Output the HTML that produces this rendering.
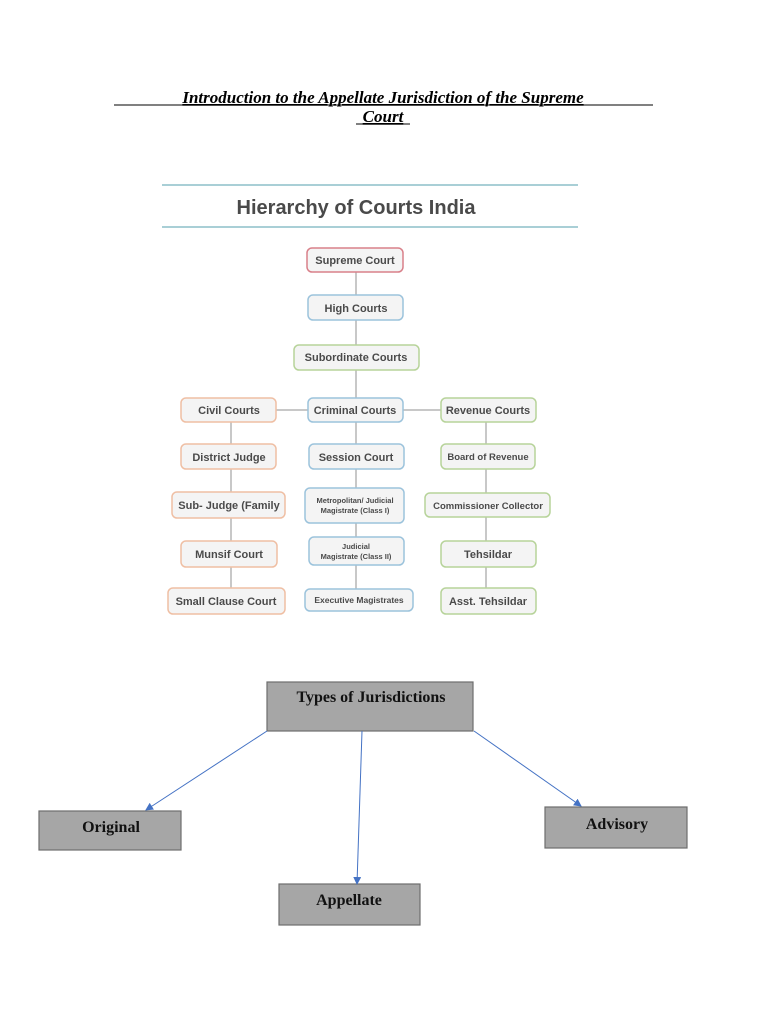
<!DOCTYPE html>
<html><head><meta charset="utf-8"><style>
html,body{margin:0;padding:0;background:#fff;}
svg{display:block;}
.t{font-family:"Liberation Sans",sans-serif;font-weight:bold;fill:#4a4a4a;text-anchor:middle;}
.s{font-family:"Liberation Serif",serif;font-weight:bold;fill:#111;text-anchor:middle;font-size:16px;}
</style></head><body>
<svg width="768" height="1024" viewBox="0 0 768 1024" xmlns="http://www.w3.org/2000/svg">
<defs>
<marker id="a" markerWidth="8" markerHeight="8" refX="7" refY="4" orient="auto" markerUnits="userSpaceOnUse"><path d="M0,0 L8,4 L0,8 z" fill="#4472c4"/></marker>
</defs>
<text x="383" y="103" style="font-family:'Liberation Serif',serif;font-style:italic;font-weight:bold;font-size:17px;text-anchor:middle;text-decoration:underline" fill="#000">Introduction to the Appellate Jurisdiction of the Supreme</text>
<text x="383" y="122" style="font-family:'Liberation Serif',serif;font-style:italic;font-weight:bold;font-size:17px;text-anchor:middle;text-decoration:underline" fill="#000">Court</text>
<line x1="114" y1="105" x2="653" y2="105" stroke="#000" stroke-width="1"/>
<line x1="356" y1="124" x2="410" y2="124" stroke="#000" stroke-width="1"/>

<line x1="162" y1="185" x2="578" y2="185" stroke="#a9cfd6" stroke-width="2"/>
<line x1="162" y1="227" x2="578" y2="227" stroke="#a9cfd6" stroke-width="2"/>
<text class="t" x="356" y="214" font-size="20" fill="#444">Hierarchy of Courts India</text>

<g stroke="#c8c8c8" stroke-width="2">
<line x1="356" y1="272" x2="356" y2="600"/>
<line x1="276" y1="410" x2="441" y2="410"/>
<line x1="231" y1="422" x2="231" y2="600"/>
<line x1="486" y1="422" x2="486" y2="600"/>
</g>

<g stroke-width="1.5" fill="#f4f4f4">
<rect x="307" y="248" width="96" height="24" rx="5" stroke="#d9808a"/>
<rect x="308" y="295" width="95" height="25" rx="5" stroke="#9cc3dc"/>
<rect x="294" y="345" width="125" height="25" rx="5" stroke="#b7d39a"/>
<rect x="181" y="398" width="95" height="24" rx="5" stroke="#efbfa4"/>
<rect x="308" y="398" width="95" height="24" rx="5" stroke="#9cc3dc"/>
<rect x="441" y="398" width="95" height="24" rx="5" stroke="#b7d39a"/>
<rect x="181" y="444" width="95" height="25" rx="5" stroke="#efbfa4"/>
<rect x="309" y="444" width="95" height="25" rx="5" stroke="#9cc3dc"/>
<rect x="441" y="444" width="94" height="25" rx="5" stroke="#b7d39a"/>
<rect x="172" y="492" width="113" height="26" rx="5" stroke="#efbfa4"/>
<rect x="305" y="488" width="99" height="35" rx="5" stroke="#9cc3dc"/>
<rect x="425" y="493" width="125" height="24" rx="5" stroke="#b7d39a"/>
<rect x="181" y="541" width="96" height="26" rx="5" stroke="#efbfa4"/>
<rect x="309" y="537" width="95" height="28" rx="5" stroke="#9cc3dc"/>
<rect x="441" y="541" width="95" height="26" rx="5" stroke="#b7d39a"/>
<rect x="168" y="588" width="117" height="26" rx="5" stroke="#efbfa4"/>
<rect x="305" y="589" width="108" height="22" rx="5" stroke="#9cc3dc"/>
<rect x="441" y="588" width="95" height="26" rx="5" stroke="#b7d39a"/>
</g>
<g class="t">
<text class="t" x="355" y="264" font-size="11">Supreme Court</text>
<text class="t" x="356" y="312" font-size="11">High Courts</text>
<text class="t" x="356" y="361" font-size="11">Subordinate Courts</text>
<text class="t" x="229" y="414" font-size="11">Civil Courts</text>
<text class="t" x="355" y="414" font-size="11">Criminal Courts</text>
<text class="t" x="488" y="414" font-size="11">Revenue Courts</text>
<text class="t" x="229" y="461" font-size="11">District Judge</text>
<text class="t" x="356" y="461" font-size="11">Session Court</text>
<text class="t" x="488" y="460" font-size="9.5">Board of Revenue</text>
<text class="t" x="229" y="509" font-size="11">Sub- Judge (Family</text>
<text class="t" x="355" y="503" font-size="7.5">Metropolitan/ Judicial</text>
<text class="t" x="355" y="513" font-size="7.5">Magistrate (Class I)</text>
<text class="t" x="488" y="509" font-size="9.5">Commissioner Collector</text>
<text class="t" x="229" y="558" font-size="11">Munsif Court</text>
<text class="t" x="356" y="549" font-size="7.5">Judicial</text>
<text class="t" x="356" y="559" font-size="7.5">Magistrate (Class II)</text>
<text class="t" x="488" y="558" font-size="11">Tehsildar</text>
<text class="t" x="226" y="605" font-size="11">Small Clause Court</text>
<text class="t" x="359" y="603" font-size="8.5">Executive Magistrates</text>
<text class="t" x="488" y="605" font-size="11">Asst. Tehsildar</text>
</g>

<g fill="#a6a6a6" stroke="#6d6d6d" stroke-width="1.2">
<rect x="267" y="682" width="206" height="49"/>
<rect x="39" y="811" width="142" height="39"/>
<rect x="545" y="807" width="142" height="41"/>
<rect x="279" y="884" width="141" height="41"/>
</g>
<g stroke="#4472c4" stroke-width="1" fill="none">
<line x1="267" y1="731" x2="146" y2="810" marker-end="url(#a)"/>
<line x1="362" y1="731" x2="357" y2="884" marker-end="url(#a)"/>
<line x1="474" y1="731" x2="581" y2="806" marker-end="url(#a)"/>
</g>
<text class="s" x="371" y="702">Types of Jurisdictions</text>
<text class="s" x="111" y="832">Original</text>
<text class="s" x="617" y="829">Advisory</text>
<text class="s" x="349" y="905">Appellate</text>
</svg>
</body></html>
